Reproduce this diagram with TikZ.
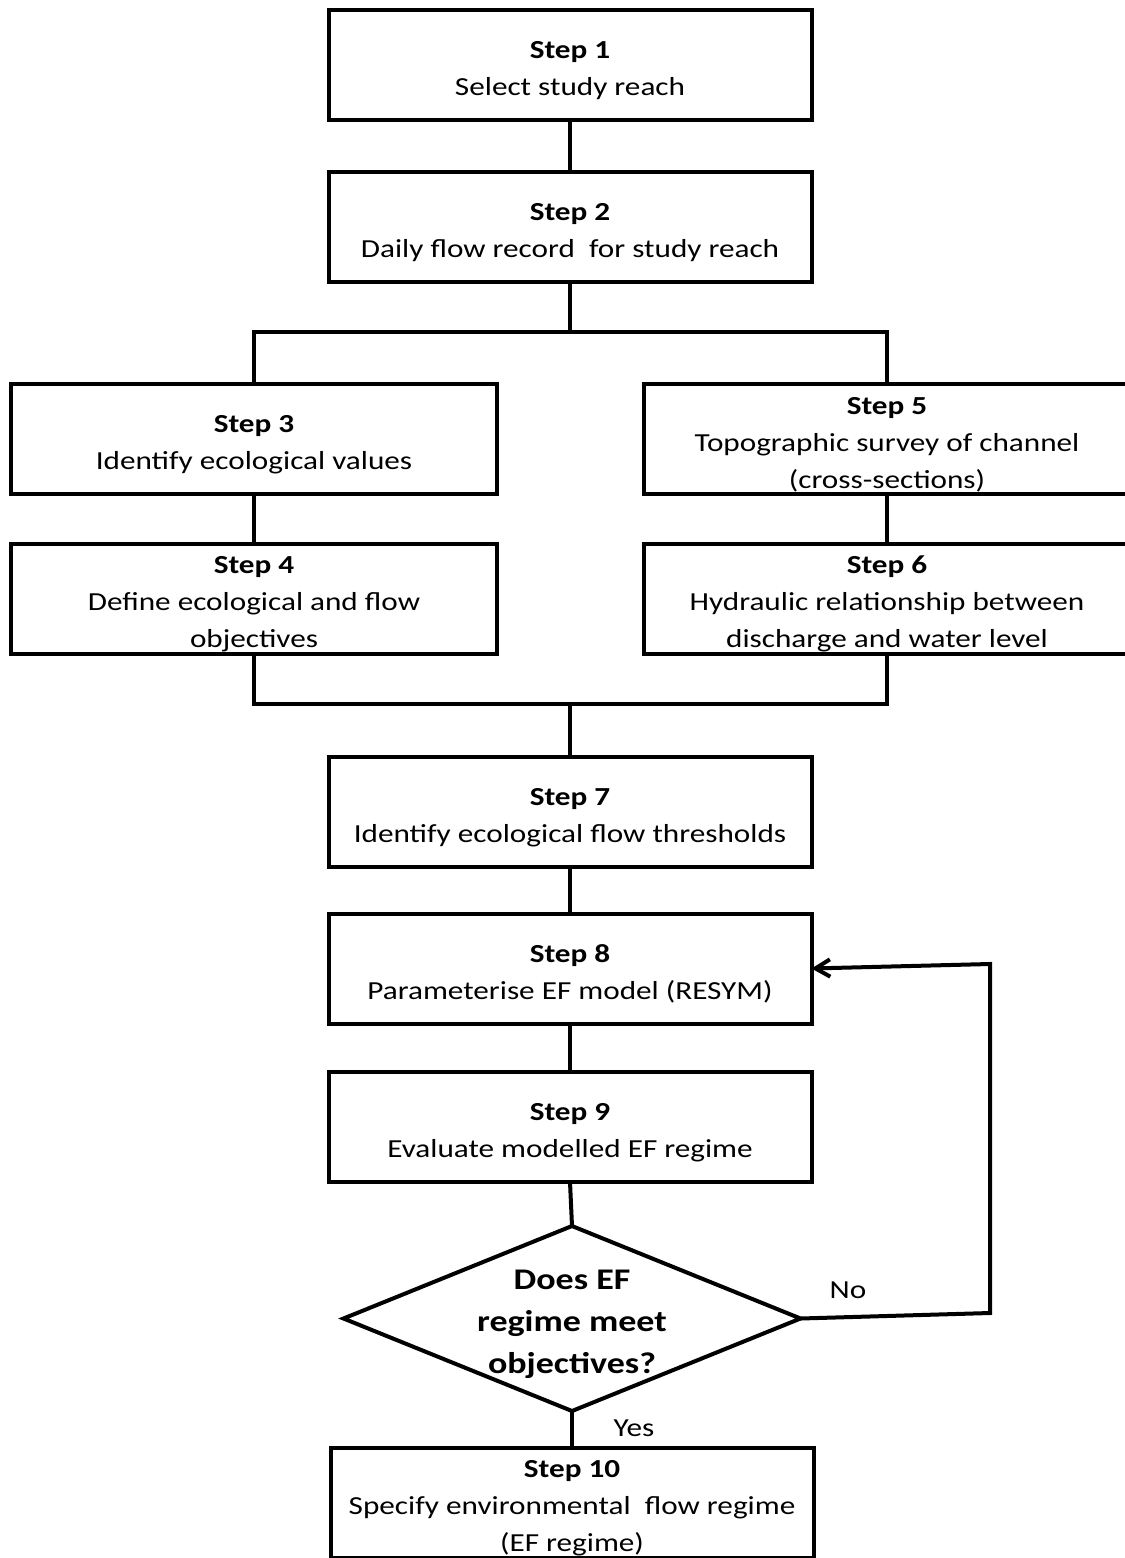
\documentclass[tikz,border=0pt]{standalone}
\usepackage{fontspec}
\setmainfont{Carlito}[FakeStretch=1.2]
\usetikzlibrary{shapes.geometric,arrows.meta}
\begin{document}
\begin{tikzpicture}[x=0.75pt,y=-0.75pt,
  line width=3pt, line join=miter,
  box/.style={draw, rectangle, minimum width=362.25pt, minimum height=82.5pt, inner sep=0pt, outer sep=0pt},
  sbox/.style={draw, rectangle, minimum width=364pt, minimum height=82.5pt, inner sep=0pt, outer sep=0pt},
  txt/.style={align=center, inner sep=0pt, font=\fontsize{19.5pt}{27.75pt}\selectfont, yshift=-4pt},
  dtxt/.style={align=center, inner sep=0pt, font=\fontsize{22.5pt}{31.5pt}\selectfont\bfseries, yshift=-4pt},
  lbl/.style={inner sep=0pt, font=\fontsize{19.5pt}{27.75pt}\selectfont},
  dec/.style={draw, diamond, minimum width=342.75pt, minimum height=138.75pt, inner sep=0pt, outer sep=0pt}
]
\useasboundingbox (0,0) rectangle (1124,1558);

\node[box] (s1) at (570,65) {};
\node[txt] (t1) at (s1.center) {\textbf{Step 1}\\Select study reach};

\node[box] (s2) at (570,227) {};
\node[txt] (t2) at (s2.center) {\textbf{Step 2}\\Daily flow record~ for study reach};

\node[sbox] (s3) at (254,439) {};
\node[txt] (t3) at (s3.center) {\textbf{Step 3}\\Identify ecological values};

\node[sbox] (s5) at (887,439) {};
\node[txt] (t5) at (s5.center) {\textbf{Step 5}\\Topographic survey of channel\\(cross-sections)};

\node[sbox] (s4) at (254,598.5) {};
\node[txt] (t4) at (s4.center) {\textbf{Step 4}\\Define ecological and flow\\objectives};

\node[sbox] (s6) at (887,598.5) {};
\node[txt] (t6) at (s6.center) {\textbf{Step 6}\\Hydraulic relationship between\\discharge and water level};

\node[box] (s7) at (570,812) {};
\node[txt] (t7) at (s7.center) {\textbf{Step 7}\\Identify ecological flow thresholds};

\node[box] (s8) at (570,968.5) {};
\node[txt] (t8) at (s8.center) {\textbf{Step 8}\\Parameterise EF model (RESYM)};

\node[box] (s9) at (570,1127) {};
\node[txt] (t9) at (s9.center) {\textbf{Step 9}\\Evaluate modelled EF regime};

\node[dec] (dia) at (572,1318.5) {};
\node[dtxt] (td) at (dia.center) {Does EF\\regime meet\\objectives?};

\node[box] (s10) at (572,1503) {};
\node[txt] (t10) at (s10.center) {\textbf{Step 10}\\Specify environmental~ flow regime\\(EF regime)};

\node[lbl] (yes) at (634,1428) {Yes};
\node[lbl] (no) at (848,1290) {No};

\coordinate (j1) at (570,332);
\coordinate (j2) at (570,704);
\coordinate (c1) at (990,1313);
\coordinate (c2) at (990,964);

\draw (s1.south) -- (s2.north);
\draw (s2.south) -- (j1);
\draw (s3.north) -- (s3.north |- j1) -- (s5.north |- j1) -- (s5.north);
\draw (s3.south) -- (s4.north);
\draw (s5.south) -- (s6.north);
\draw (s4.south) -- (s4.south |- j2) -- (s6.south |- j2) -- (s6.south);
\draw (j2) -- (s7.north);
\draw (s7.south) -- (s8.north);
\draw (s8.south) -- (s9.north);
\draw (s9.south) -- (dia.north);
\draw (dia.south) -- (s10.north);
\draw[-{Straight Barb[length=11pt,width=13pt]}] (dia.east) -- (c1) -- (c2) -- (s8.east);
\end{tikzpicture}
\end{document}
